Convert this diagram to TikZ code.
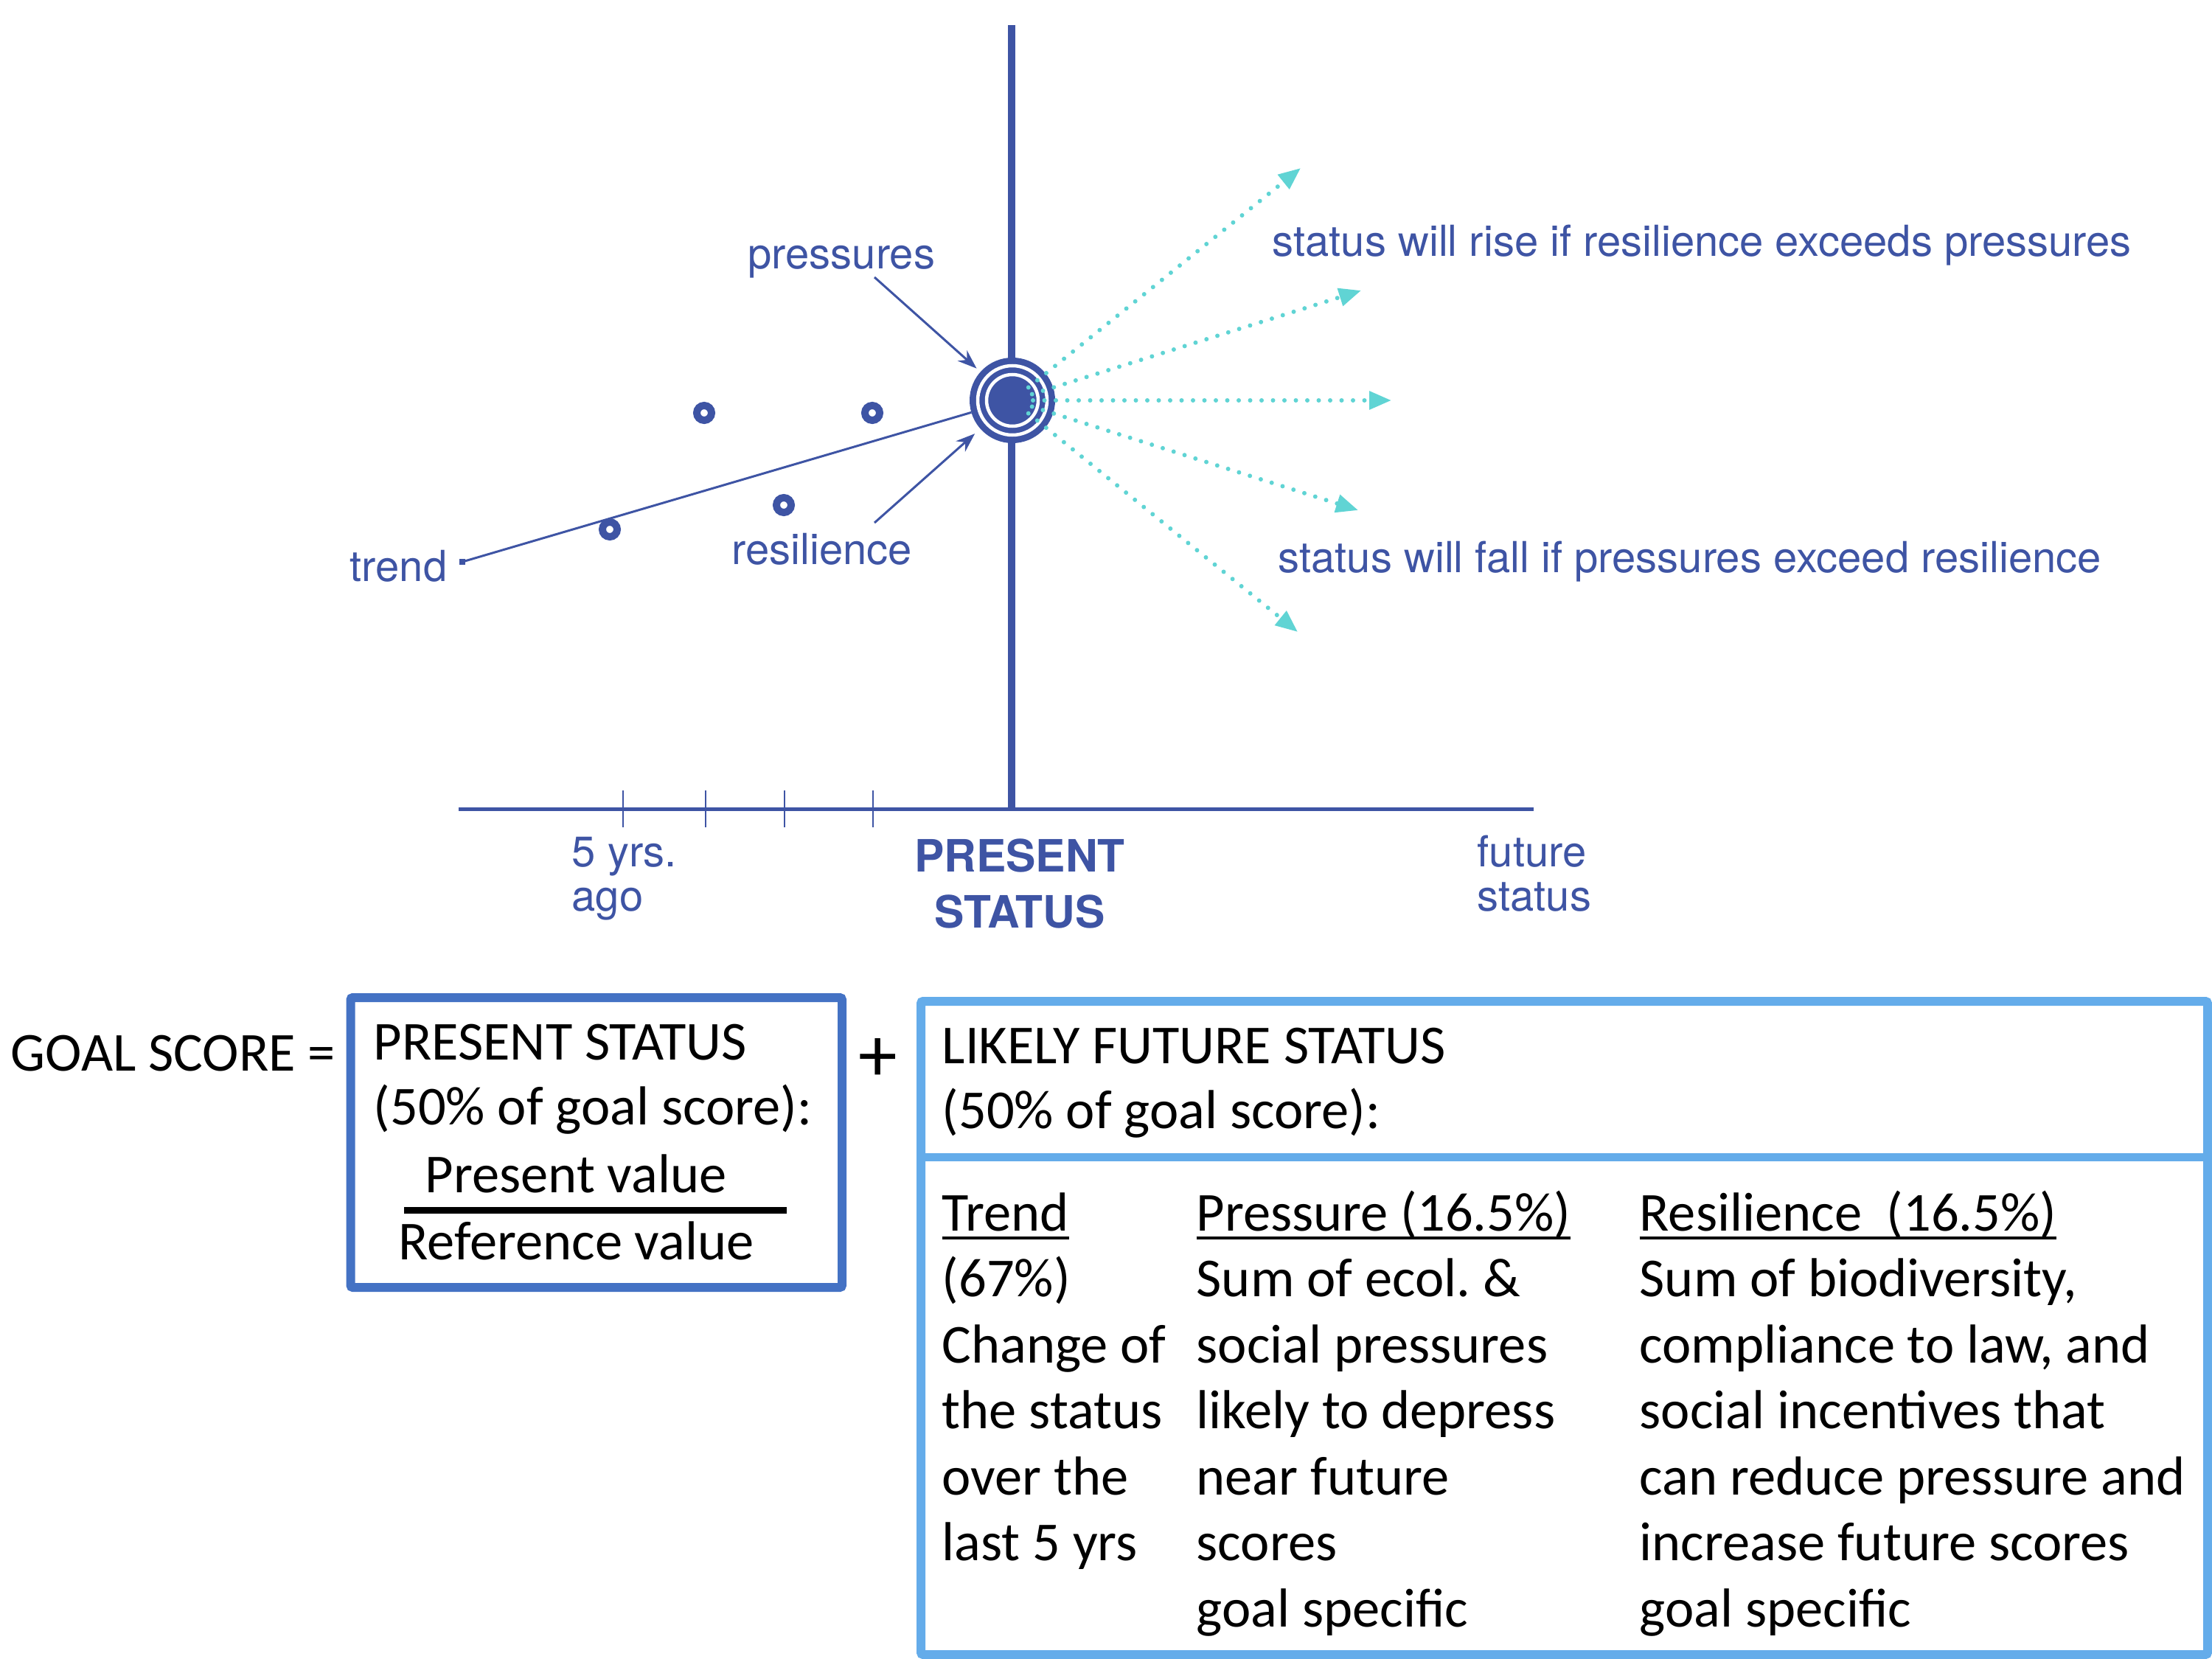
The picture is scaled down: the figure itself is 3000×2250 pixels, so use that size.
\documentclass[tikz,border=0pt]{standalone}
\usepackage{fontspec}
\setmainfont{Carlito}
\newfontfamily\helv{TeX Gyre Heros}
\usetikzlibrary{arrows.meta}
\definecolor{navy}{RGB}{62,84,164}
\definecolor{aqua}{RGB}{96,212,212}
\definecolor{pblue}{RGB}{68,114,196}
\definecolor{fblue}{RGB}{100,172,234}
\newcommand\ulx[1]{\setbox0\hbox{#1}\rlap{\rule[-3.55pt]{\wd0}{1.4pt}}\box0}
\frenchspacing
\begin{document}
\begin{tikzpicture}[x=0.1mm,y=-0.1mm,
  gl/.style={inner sep=0, anchor=base west, text=navy, font=\helv\fontsize{16.5pt}{19pt}\selectfont},
  glb/.style={inner sep=0, anchor=base, text=navy, font=\helv\bfseries\fontsize{17.2pt}{20pt}\selectfont},
  bt/.style={inner sep=0, anchor=base west, font=\fontsize{21.2pt}{25pt}\selectfont},
  ringmark/.style={circle, draw=navy, line width=1mm, minimum size=2mm, inner sep=0},
  thinarrow/.style={navy, line width=0.3mm, -{Stealth[length=2.6mm,width=1.9mm]}},
  dotarrow/.style={aqua, line width=0.6mm, line cap=round, dash pattern=on 0pt off 1.55mm, shorten <=2.8mm, -{Triangle[length=3mm,width=2.4mm]}}
]
\useasboundingbox (0,0) rectangle (3000,2250);

% axes
\coordinate (vtop) at (1372,34);
\coordinate (origin) at (1372,1097);
\coordinate (axl) at (622,1097);
\coordinate (axr) at (2080,1097);
\draw[navy, line width=0.5mm] (axl) -- (axr);
\draw[navy, line width=1mm] (vtop) -- (origin);
\foreach \x [count=\i] in {845,957,1064,1184}
  \draw[navy, line width=0.25mm] (\x,1072) coordinate (tk\i) -- (\x,1122);

% data points
\node[ringmark] (m1) at (955,560) {};
\node[ringmark] (m2) at (1183,560) {};
\node[ringmark] (m3) at (1063,685) {};
\node[ringmark] (m4) at (827,718) {};

% present status circle
\node[circle, fill=navy, minimum size=11.6mm, inner sep=0, outer sep=0] (pres) at (1373,543) {};
\draw[white, line width=0.45mm] (pres.center) circle[radius=4.7mm];
\draw[white, line width=0.45mm] (pres.center) circle[radius=3.5mm];

% trend line
\node[fill=navy, minimum size=0.8mm, inner sep=0] (tdot) at (627,762) {};
\draw[navy, line width=0.3mm] (tdot.center) -- (pres);

% pressures / resilience arrows
\coordinate (pa) at (1186,376);
\coordinate (ra) at (1186,709);
\draw[thinarrow, shorten >=0.7mm] (pa) -- (pres);
\draw[thinarrow, shorten >=1mm] (ra) -- (pres);

% future arrows
\foreach \n/\x/\y in {1/1764/228, 2/1846/394, 3/1887/543, 4/1842/692, 5/1760/857} {
  \coordinate (c\n) at (\x,\y);
  \draw[dotarrow] (pres.center) -- (c\n);
}

% graph labels
\node[gl] (plab) at (1014,365) {pressures};
\node[gl] (rlab) at (992,765) {resilience};
\node[gl] (tlab) at (474,788) {trend};
\node[gl] (rise) at (1725,347) {status will rise if resilience exceeds pressures};
\node[gl] (fall) at (1733,776) {status will fall if pressures exceed resilience};
\node[gl] (ago1) at (775,1175) {5 yrs.};
\node[gl] (ago2) at (775,1235) {ago};
\node[glb] (ps1lab) at (1383,1182) {PRESENT};
\node[glb] (ps2lab) at (1383,1258) {STATUS};
\node[gl] (fut1) at (2003,1175) {future};
\node[gl] (fut2) at (2003,1235) {status};

% boxes
\node[draw=pblue, line width=1.2mm, outer sep=0, inner sep=0, minimum width=66.65mm, minimum height=39.3mm, anchor=north west, rounded corners=0.3mm] (pbox) at (475.5,1353) {};
\node[draw=fblue, line width=1.2mm, outer sep=0, inner sep=0, minimum width=174.5mm, minimum height=88.6mm, anchor=north west, rounded corners=0.3mm] (fbox) at (1249,1358) {};
\draw[fblue, line width=1.1mm] (fbox.west |- 0,1569) -- (fbox.east |- 0,1569);

% bottom texts
\node[bt] (goal) at (14,1452) {GOAL SCORE =};
\node[bt] (pst1) at (506,1437) {PRESENT STATUS};
\node[bt] (pst2) at (506,1525) {(50\% of goal score):};
\node[bt] (pv) at (576,1617) {Present value};
\draw[line width=0.9mm] (548,1641) coordinate (fl) -- (1067,1641) coordinate (fr);
\node[bt] (rv) at (540,1708) {Reference value};
\node[inner sep=0, font=\fontsize{30pt}{30pt}\selectfont] (plus) at (1191,1437) {+};

\node[bt] (lf1) at (1277,1442) {LIKELY FUTURE STATUS};
\node[bt] (lf2) at (1277,1530) {(50\% of goal score):};

\foreach \t [count=\i from 0] in {\ulx{Trend}, (67\%), Change of, the status, over the, last 5 yrs}
  \node[bt] (tc\i) at (1277,{1669+89.5*\i}) {\t};
\foreach \t [count=\i from 0] in {\ulx{Pressure (16.5\%)}, Sum of ecol. \&, social pressures, likely to depress, near future, scores, goal specific}
  \node[bt] (pc\i) at (1622,{1669+89.5*\i}) {\t};
\foreach \t [count=\i from 0] in {\ulx{Resilience~~(16.5\%)}, {Sum of biodiversity,}, {compliance to law, and}, social incentives that, can reduce pressure and, increase future scores, goal specific}
  \node[bt] (rc\i) at (2223,{1669+89.5*\i}) {\t};
\end{tikzpicture}
\end{document}
